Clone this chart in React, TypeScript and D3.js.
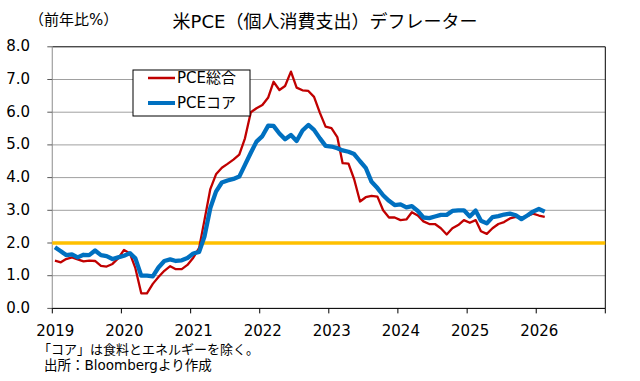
import React from "react";
import * as d3 from "d3";

// Monthly data, Jan 2019 .. Feb 2026 (YoY %)
const startYear = 2019;
const headlineValues = [
  1.46, 1.41, 1.51, 1.56, 1.5, 1.44, 1.46, 1.45, 1.3, 1.28, 1.36, 1.53,
  1.79, 1.68, 1.23, 0.46, 0.46, 0.75, 0.96, 1.15, 1.29, 1.2, 1.2, 1.33,
  1.55, 1.85, 2.7, 3.65, 4.1, 4.3, 4.42, 4.55, 4.7, 5.2, 6.0, 6.12,
  6.22, 6.45, 6.93, 6.68, 6.8, 7.24, 6.75, 6.67, 6.65, 6.47, 5.98, 5.56,
  5.51, 5.24, 4.44, 4.43, 3.95, 3.27, 3.4, 3.44, 3.42, 3.0, 2.78, 2.78,
  2.7, 2.72, 2.94, 2.84, 2.66, 2.58, 2.58, 2.45, 2.26, 2.45, 2.55, 2.7,
  2.62, 2.7, 2.36, 2.28, 2.45, 2.58, 2.64, 2.75, 2.8, 2.77, 2.83, 2.9,
  2.84, 2.8,
];
const coreValues = [
  1.87, 1.75, 1.63, 1.65, 1.56, 1.64, 1.63, 1.77, 1.63, 1.6, 1.51, 1.56,
  1.61, 1.69, 1.53, 1.0, 1.0, 0.98, 1.25, 1.45, 1.5, 1.45, 1.47, 1.54,
  1.68, 1.73, 2.2, 3.07, 3.57, 3.85, 3.91, 3.96, 4.03, 4.39, 4.76, 5.1,
  5.27, 5.59, 5.58, 5.35, 5.17, 5.3, 5.12, 5.44, 5.61, 5.46, 5.2, 4.97,
  4.95, 4.9, 4.83, 4.79, 4.72, 4.5, 4.3, 3.87, 3.68, 3.46, 3.29, 3.16,
  3.18, 3.09, 3.13, 2.98, 2.78, 2.76, 2.81, 2.86, 2.86, 2.98, 3.0, 3.0,
  2.81, 2.99, 2.68, 2.6, 2.79, 2.82, 2.87, 2.9, 2.85, 2.73, 2.84, 2.96,
  3.04, 2.96,
];
const targetLevel = 2.0;
const yearTicks = [2019, 2020, 2021, 2022, 2023, 2024, 2025, 2026, 2027];
const yearLabels = ["2019", "2020", "2021", "2022", "2023", "2024", "2025", "2026"];
const yTicks = [0, 1, 2, 3, 4, 5, 6, 7, 8];
const seriesNames = ["PCE総合", "PCEコア"];
const titleText = "米PCE（個人消費支出）デフレーター";
const unitText = "（前年比%）";
const noteLines = ["「コア」は食料とエネルギーを除く。", "出所：Bloombergより作成"];

const W = 640;
const H = 381;
const left = 52.3;
const right = 605.3;
const top = 46.8;
const bottom = 308.4;

const FONT = "'DejaVu Sans', 'Noto Sans CJK JP', sans-serif";
const RED = "#C00000";
const BLUE = "#0070C0";
const YELLOW = "#FFC000";

export default function App() {
  const x = d3
    .scaleTime()
    .domain([new Date(2019, 0, 1), new Date(2027, 0, 1)])
    .range([left, right]);
  const y = d3.scaleLinear().domain([0, 8]).range([bottom, top]);
  const dateOf = (i: number) => new Date(startYear, i, 15);
  const line = d3
    .line<number>()
    .x((_, i) => x(dateOf(i)))
    .y((v) => y(v));
  const fmt = d3.format(".1f");

  return (
    <svg
      width={W}
      height={H}
      style={{ position: "absolute", left: 0, top: 0, background: "#fff" }}
      fontFamily={FONT}
    >
      <rect x={0} y={0} width={W} height={H} fill="#fff" />
      {/* title */}
      <text x={325} y={28} fontSize={18} textAnchor="middle" fill="#000">
        {titleText}
      </text>
      <text x={29} y={25} fontSize={15} fill="#000">
        {unitText}
      </text>
      {/* gridlines */}
      {yTicks.map((t) => (
        <line
          key={"g" + t}
          x1={left}
          x2={right}
          y1={y(t)}
          y2={y(t)}
          stroke={t === 8 ? "#000" : "#A0A0A0"}
          strokeWidth={1}
        />
      ))}
      {/* left axis */}
      <line x1={left} x2={left} y1={top} y2={bottom} stroke="#A0A0A0" strokeWidth={1.2} />
      {yTicks.map((t) => (
        <g key={"yt" + t}>
          <line x1={left - 5} x2={left} y1={y(t)} y2={y(t)} stroke="#595959" />
          <text x={30} y={y(t) + 4.5} fontSize={15} textAnchor="end" fill="#000">
            {fmt(t)}
          </text>
        </g>
      ))}
      {/* right border */}
      <line x1={right} x2={right} y1={top} y2={bottom} stroke="#000" strokeWidth={1} />
      {/* 2% line */}
      <line
        x1={left}
        x2={right}
        y1={y(targetLevel)}
        y2={y(targetLevel)}
        stroke={YELLOW}
        strokeWidth={3.5}
      />
      {/* series */}
      <path d={line(headlineValues) || ""} fill="none" stroke={RED} strokeWidth={2.3} strokeLinejoin="round" />
      <path d={line(coreValues) || ""} fill="none" stroke={BLUE} strokeWidth={4.3} strokeLinejoin="round" />
      {/* bottom axis */}
      <line x1={left} x2={right} y1={bottom} y2={bottom} stroke="#000" strokeWidth={1} />
      {yearTicks.map((yr) => (
        <line
          key={"xt" + yr}
          x1={x(new Date(yr, 0, 1))}
          x2={x(new Date(yr, 0, 1))}
          y1={bottom}
          y2={bottom + 5}
          stroke="#000"
        />
      ))}
      {yearLabels.map((lbl, i) => (
        <text
          key={"xl" + lbl}
          x={x(new Date(yearTicks[i], 0, 1)) + 3}
          y={336}
          fontSize={15}
          textAnchor="middle"
          fill="#000"
        >
          {lbl}
        </text>
      ))}
      {/* legend */}
      <rect x={133} y={70} width={117} height={46} fill="#fff" stroke="#000" strokeWidth={1} />
      <line x1={148} x2={175} y1={78} y2={78} stroke={RED} strokeWidth={2.5} />
      <text x={177} y={83} fontSize={15} fill="#000">
        {seriesNames[0]}
      </text>
      <line x1={148} x2={175} y1={103} y2={103} stroke={BLUE} strokeWidth={4} />
      <text x={177} y={108} fontSize={15} fill="#000">
        {seriesNames[1]}
      </text>
      {/* notes */}
      <text x={38} y={354} fontSize={13} fill="#000">
        {noteLines[0]}
      </text>
      <text x={44} y={370} fontSize={13.5} fill="#000">
        {noteLines[1]}
      </text>
    </svg>
  );
}
